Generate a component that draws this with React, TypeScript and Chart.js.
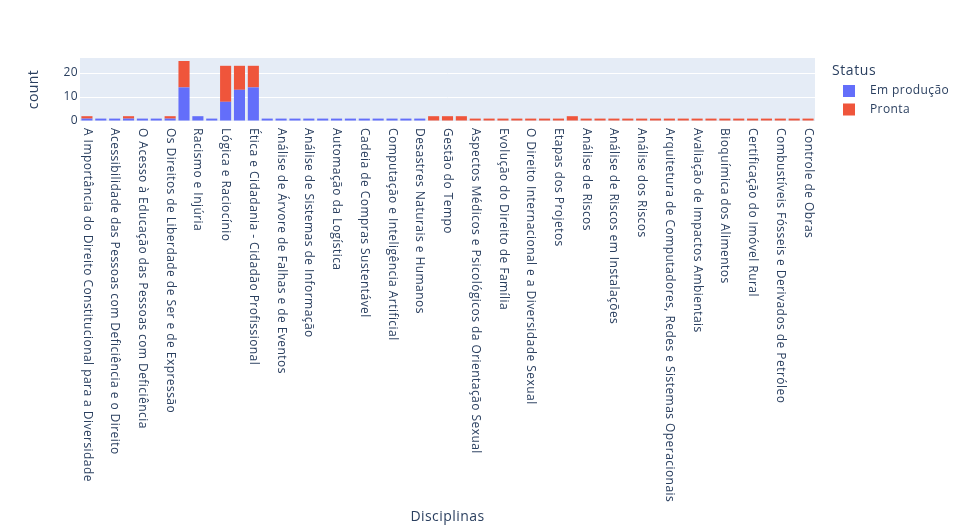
import { useEffect, useRef } from "react";
import { Chart, registerables } from "chart.js";

Chart.register(...registerables);

const categories: string[] = [
  "A Importância do Direito Constitucional para a Diversidade",
  "Direitos Humanos e Cidadania",
  "Acessibilidade das Pessoas com Deficiência e o Direito",
  "Diversidade Étnico-Racial",
  "O Acesso à Educação das Pessoas com Deficiência",
  "Gênero e Sexualidade",
  "Os Direitos de Liberdade de Ser e de Expressão",
  "Comunicação e Expressão",
  "Racismo e Injúria",
  "Relações Étnico-Raciais",
  "Lógica e Raciocínio",
  "Metodologia Científica",
  "Ética e Cidadania - Cidadão Profissional",
  "Administração de Banco de Dados",
  "Análise de Árvore de Falhas e de Eventos",
  "Análise de Dados",
  "Análise de Sistemas de Informação",
  "Arquitetura de Software",
  "Automação da Logística",
  "Big Data",
  "Cadeia de Compras Sustentável",
  "Cálculo Aplicado",
  "Computação e Inteligência Artificial",
  "Controle Estatístico de Processos",
  "Desastres Naturais e Humanos",
  "Gestão de Projetos",
  "Gestão do Tempo",
  "Gestão Financeira",
  "Aspectos Médicos e Psicológicos da Orientação Sexual",
  "Direito Penal",
  "Evolução do Direito de Família",
  "Identidade de Gênero",
  "O Direito Internacional e a Diversidade Sexual",
  "Escopo do Projeto",
  "Etapas dos Projetos",
  "Gerenciamento de Riscos",
  "Análise de Riscos",
  "Análise de Riscos Ambientais",
  "Análise de Riscos em Instalações",
  "Análise de Vulnerabilidades",
  "Análise dos Riscos",
  "Arquitetura de Redes",
  "Arquitetura de Computadores, Redes e Sistemas Operacionais",
  "Auditoria Ambiental",
  "Avaliação de Impactos Ambientais",
  "Biologia Celular",
  "Bioquímica dos Alimentos",
  "Biossegurança",
  "Certificação do Imóvel Rural",
  "Ciência dos Materiais",
  "Combustíveis Fósseis e Derivados de Petróleo",
  "Contabilidade Geral",
  "Controle de Obras",
];

const emProducao: (number | null)[] = [
  1, 1, 1, 1, 1, 1, 1, 14, 2, 1, 8, 13, 14,
  1, 1, 1, 1, 1, 1, 1, 1, 1, 1, 1, 1,
  null, null, null,
  null, null, null, null, null, null, null, null,
  null, null, null, null, null, null, null, null, null,
  null, null, null, null, null, null, null, null,
];

const pronta: (number | null)[] = [
  1, null, null, 1, null, null, 1, 11, null, null, 15, 10, 9,
  null, null, null, null, null, null, null, null, null, null, null, null,
  2, 2, 2,
  1, 1, 1, 1, 1, 1, 1, 2,
  1, 1, 1, 1, 1, 1, 1, 1, 1,
  1, 1, 1, 1, 1, 1, 1, 1,
];

const seriesNames = ["Em produção", "Pronta"];
const seriesColors = ["#636EFA", "#EF553B"];
const yTickValues = [0, 10, 20];
const yMax = 26.25;
const legendTitle = "Status";
const xTitle = "Disciplinas";
const yTitle = "count";

const FONT = '"Open Sans", verdana, arial, sans-serif';
const TEXT = "#2a3f5f";
const PLOT_BG = "#E5ECF6";

export default function App() {
  const ref = useRef<HTMLCanvasElement>(null);

  useEffect(() => {
    if (!ref.current) return;

    const bgPlugin = {
      id: "plotBg",
      beforeDraw(chart: any) {
        const { ctx, chartArea: a } = chart;
        ctx.save();
        ctx.fillStyle = PLOT_BG;
        ctx.fillRect(a.left, a.top, a.right - a.left, a.bottom - a.top);
        ctx.restore();
        ctx.letterSpacing = "0.45px";
      },
    };

    const xLabelsPlugin = {
      id: "xLabels",
      afterDraw(chart: any) {
        const xs = chart.scales.x;
        const ctx = chart.ctx;
        ctx.save();
        ctx.font = `12px ${FONT}`;
        ctx.letterSpacing = "0.45px";
        ctx.fillStyle = TEXT;
        ctx.textAlign = "left";
        ctx.textBaseline = "middle";
        categories.forEach((c, i) => {
          if (i % 2 !== 0) return;
          const x = xs.getPixelForValue(i);
          ctx.save();
          ctx.translate(x, chart.chartArea.bottom + 7);
          ctx.rotate(Math.PI / 2);
          ctx.fillText(c, 0, 0);
          ctx.restore();
        });
        ctx.restore();
      },
    };

    const legendPlugin = {
      id: "customLegend",
      afterDraw(chart: any) {
        const ctx = chart.ctx;
        const lx = chart.chartArea.right + 17;
        ctx.save();
        ctx.fillStyle = TEXT;
        ctx.textAlign = "left";
        ctx.textBaseline = "middle";
        ctx.font = `14px ${FONT}`;
        ctx.letterSpacing = "0.6px";
        ctx.fillText(legendTitle, lx, 71);
        ctx.font = `12px ${FONT}`;
        ctx.letterSpacing = "0.4px";
        seriesNames.forEach((name, i) => {
          const cy = 91 + i * 18.5;
          ctx.fillStyle = seriesColors[i];
          ctx.fillRect(lx + 11, cy - 6, 12, 12);
          ctx.fillStyle = TEXT;
          ctx.fillText(name, lx + 38, cy);
        });
        ctx.restore();
      },
    };

    const chart = new Chart(ref.current, {
      type: "bar",
      data: {
        labels: categories,
        datasets: [
          {
            label: seriesNames[0],
            data: emProducao,
            backgroundColor: seriesColors[0],
            borderWidth: 0,
            categoryPercentage: 0.8,
            barPercentage: 1,
          },
          {
            label: seriesNames[1],
            data: pronta,
            backgroundColor: seriesColors[1],
            borderWidth: 0,
            categoryPercentage: 0.8,
            barPercentage: 1,
          },
        ],
      },
      options: {
        responsive: false,
        animation: false,
        devicePixelRatio: 1,
        layout: { padding: { top: 58, right: 151, bottom: 0, left: 0 } },
        plugins: {
          legend: { display: false },
          tooltip: { enabled: false },
        },
        scales: {
          x: {
            stacked: true,
            grid: { display: false },
            border: { display: false },
            ticks: { display: false },
            title: {
              display: true,
              text: xTitle,
              color: TEXT,
              font: { family: FONT, size: 14 },
              padding: { top: 0, bottom: 0 },
            },
            afterFit(scale: any) {
              scale.height = 404;
            },
          },
          y: {
            stacked: true,
            min: 0,
            max: yMax,
            grid: { color: "#ffffff", lineWidth: 1, drawTicks: false },
            border: { display: false },
            ticks: {
              color: TEXT,
              font: { family: FONT, size: 12 },
              padding: 2,
            },
            title: {
              display: true,
              text: yTitle,
              color: TEXT,
              font: { family: FONT, size: 14 },
              padding: { top: 26, bottom: 0 },
            },
            afterBuildTicks(scale: any) {
              scale.ticks = yTickValues.map((v) => ({ value: v }));
            },
            afterFit(scale: any) {
              scale.width = 80;
            },
          },
        },
      },
      plugins: [bgPlugin, xLabelsPlugin, legendPlugin],
    });

    return () => chart.destroy();
  }, []);

  return (
    <div style={{ position: "absolute", left: 0, top: 0, width: 966, height: 525, background: "#fff" }}>
      <canvas ref={ref} width={966} height={525} style={{ display: "block" }} />
    </div>
  );
}
